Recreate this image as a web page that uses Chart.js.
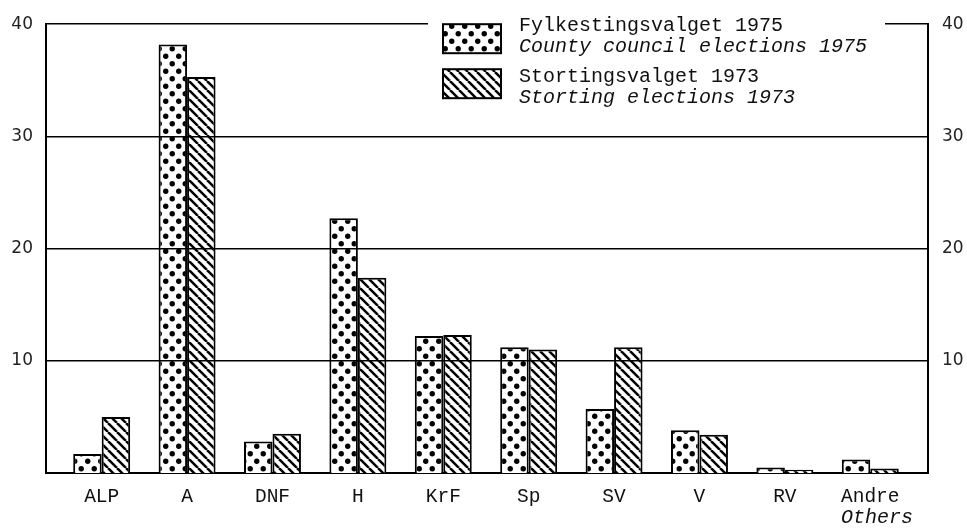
<!DOCTYPE html>
<html>
<head>
<meta charset="utf-8">
<script src="https://cdn.jsdelivr.net/npm/chart.js@4.4.1/dist/chart.umd.min.js"></script>
<style>
  body { margin: 0; background: #fff; }
  #wrap { width: 967px; height: 528px; }
</style>
</head>
<body>
<div id="wrap"><canvas id="chart"></canvas></div>
<script>
const categories = ["ALP", "A", "DNF", "H", "KrF", "Sp", "SV", "V", "RV", "Andre"];
const fylke1975 = [1.7, 38.2, 2.8, 22.7, 12.2, 11.2, 5.7, 3.8, 0.5, 1.2];
const storting1973 = [5.0, 35.3, 3.5, 17.4, 12.3, 11.0, 11.2, 3.4, 0.3, 0.4];
const yTicks = [10, 20, 30, 40];
const legendLines = [
  ["Fylkestingsvalget 1975", "County council elections 1975"],
  ["Stortingsvalget 1973", "Storting elections 1973"],
];
const othersLabel = "Others";

const MONO = "'Liberation Mono', 'Courier New', monospace";

function dotPattern() {
  const c = document.createElement("canvas");
  c.width = 13; c.height = 15;
  const g = c.getContext("2d");
  g.fillStyle = "#fff";
  g.fillRect(0, 0, 13, 15);
  g.fillStyle = "#000";
  [[3.25, 3.75], [9.75, 11.25]].forEach(([x, y]) => {
    g.beginPath();
    g.arc(x, y, 2.7, 0, Math.PI * 2);
    g.fill();
  });
  return g.createPattern(c, "repeat");
}

function hatchPattern() {
  const s = 9;
  const c = document.createElement("canvas");
  c.width = s; c.height = s;
  const g = c.getContext("2d");
  g.fillStyle = "#fff";
  g.fillRect(0, 0, s, s);
  g.strokeStyle = "#000";
  g.lineWidth = 2.5;
  [-s, 0, s].forEach(k => {
    g.beginPath();
    g.moveTo(k, 0);
    g.lineTo(k + s, s);
    g.stroke();
  });
  return g.createPattern(c, "repeat");
}

const fills = [dotPattern(), hatchPattern()];

// legend box + italic "Others" under the last category
const extras = {
  id: "extras",
  afterDraw(chart) {
    const ctx = chart.ctx;
    const area = chart.chartArea;
    ctx.save();
    ctx.fillStyle = "#fff";
    ctx.fillRect(428, area.top - 8, 457, 100);

    legendLines.forEach((lines, i) => {
      const top = area.top + i * 45;
      ctx.fillStyle = fills[i];
      ctx.fillRect(443, top, 58, 29);
      ctx.strokeStyle = "#000";
      ctx.lineWidth = 2;
      ctx.strokeRect(443, top, 58, 29);

      ctx.fillStyle = "#111";
      ctx.textBaseline = "alphabetic";
      ctx.textAlign = "left";
      ctx.font = "20px " + MONO;
      ctx.fillText(lines[0], 519, top + 7 + i * 6);
      ctx.font = "italic 20px " + MONO;
      ctx.fillText(lines[1], 519, top + 28 + i * 6);
    });

    const xs = chart.scales.x;
    const last = categories.length - 1;
    ctx.font = "19.5px " + MONO;
    const w = ctx.measureText(categories[last]).width;
    const x0 = xs.getPixelForValue(last) - w / 2;
    ctx.font = "italic 20px " + MONO;
    ctx.fillStyle = "#111";
    ctx.textAlign = "left";
    ctx.textBaseline = "middle";
    ctx.fillText(othersLabel, x0, area.bottom + 45);
    ctx.restore();
  }
};

const yAxis = (position, width) => ({
  type: "linear",
  position: position,
  min: 0,
  max: 40,
  afterBuildTicks: s => { s.ticks = yTicks.map(v => ({ value: v })); },
  afterFit: s => { s.width = width; },
  border: { display: true, color: "#000", width: 2, z: 1 },
  grid: {
    display: position === "left",
    color: "#000",
    lineWidth: 1.6,
    drawTicks: false,
    z: 1,
  },
  ticks: {
    color: "#222",
    padding: position === "left" ? 13 : 14,
    font: { family: "'DejaVu Sans', sans-serif", size: 17 },
  },
});

new Chart(document.getElementById("chart"), {
  type: "bar",
  data: {
    datasets: [
      {
        label: legendLines[0][0],
        data: fylke1975.map((v, i) => ({ x: i, y: v })),
        backgroundColor: fills[0],
        borderColor: "#000",
        borderWidth: 2,
      },
      {
        label: legendLines[1][0],
        data: storting1973.map((v, i) => ({ x: i, y: v })),
        backgroundColor: fills[1],
        borderColor: "#000",
        borderWidth: 2,
      },
    ],
  },
  options: {
    responsive: true,
    maintainAspectRatio: false,
    animation: false,
    categoryPercentage: 0.667,
    barPercentage: 1,
    layout: { padding: { top: 22, right: 0, bottom: 0, left: 0 } },
    plugins: {
      legend: { display: false },
      tooltip: { enabled: false },
    },
    scales: {
      x: {
        type: "linear",
        offset: false,
        min: -0.652,
        max: 9.676,
        afterBuildTicks: s => { s.ticks = categories.map((c, i) => ({ value: i })); },
        afterFit: s => { s.height = 55; },
        border: { display: true, color: "#000", width: 2 },
        grid: { display: false },
        ticks: {
          color: "#111",
          padding: 4,
          maxRotation: 0,
          autoSkip: false,
          font: { family: MONO, size: 19.5 },
          callback: v => categories[v],
        },
      },
      y: yAxis("left", 46),
      y2: yAxis("right", 39),
    },
  },
  plugins: [extras],
});
</script>
</body>
</html>
